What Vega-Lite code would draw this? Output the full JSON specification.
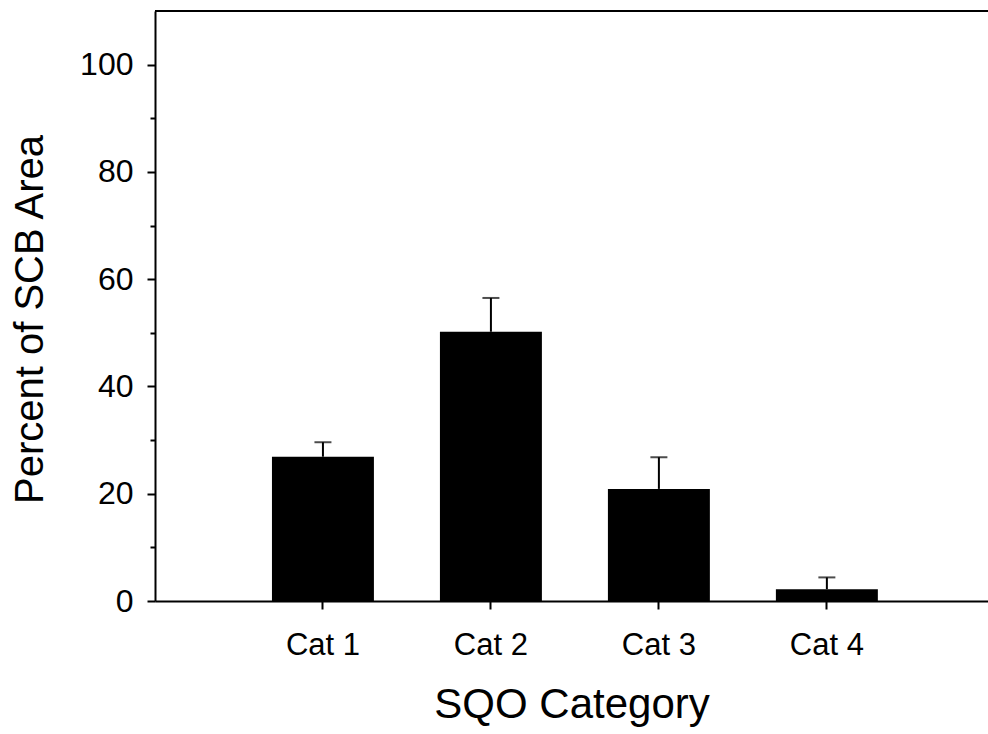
{
  "$schema": "https://vega.github.io/schema/vega-lite/v6.json",
  "autosize": {"type": "none"},
  "width": 833,
  "height": 590,
  "padding": {"left": 155, "top": 11, "right": 0, "bottom": 133},
  "background": "white",
  "config": {
    "view": {"stroke": null},
    "font": "Liberation Sans",
    "axis": {
      "labelFont": "Liberation Sans",
      "titleFont": "Liberation Sans",
      "labelColor": "black",
      "titleColor": "black",
      "domainColor": "black",
      "tickColor": "black",
      "domainWidth": 2,
      "tickWidth": 2,
      "titleFontWeight": "normal",
      "grid": false
    }
  },
  "data": {
    "values": [
      {"category": "Cat 1", "percent": 26.9, "upper": 29.6},
      {"category": "Cat 2", "percent": 50.2, "upper": 56.5},
      {"category": "Cat 3", "percent": 20.9, "upper": 26.8},
      {"category": "Cat 4", "percent": 2.2, "upper": 4.4}
    ]
  },
  "layer": [
    {
      "mark": {"type": "bar", "color": "black"},
      "encoding": {
        "x": {
          "field": "category",
          "type": "nominal",
          "scale": {"paddingInner": 0.393, "paddingOuter": 0.676, "align": 0.515},
          "axis": {
            "title": "SQO Category",
            "labelAngle": 0,
            "labelFontSize": 31,
            "titleFontSize": 42,
            "tickSize": 8,
            "labelPadding": 21,
            "titlePadding": 24
          }
        },
        "y": {
          "field": "percent",
          "type": "quantitative",
          "scale": {"domain": [0, 110], "nice": false},
          "axis": {
            "title": "Percent of SCB Area",
            "values": [0, 10, 20, 30, 40, 50, 60, 70, 80, 90, 100],
            "labelExpr": "datum.value % 20 == 0 ? datum.label : ''",
            "tickSize": {"condition": {"test": "datum.value % 20 == 0", "value": 8}, "value": 5},
            "labelFontSize": 32,
            "titleFontSize": 40,
            "labelPadding": 14,
            "titlePadding": 29,
            "titleY": 308
          }
        }
      }
    },
    {
      "mark": {"type": "rule", "color": "black", "strokeWidth": 2},
      "encoding": {
        "x": {"field": "category", "type": "nominal"},
        "y": {"field": "percent", "type": "quantitative"},
        "y2": {"field": "upper"}
      }
    },
    {
      "mark": {"type": "tick", "color": "black", "size": 17, "thickness": 2, "orient": "horizontal"},
      "encoding": {
        "x": {"field": "category", "type": "nominal"},
        "y": {"field": "upper", "type": "quantitative"}
      }
    },
    {
      "mark": {"type": "rule", "color": "black", "strokeWidth": 2},
      "encoding": {
        "y": {"datum": 110}
      }
    }
  ]
}
